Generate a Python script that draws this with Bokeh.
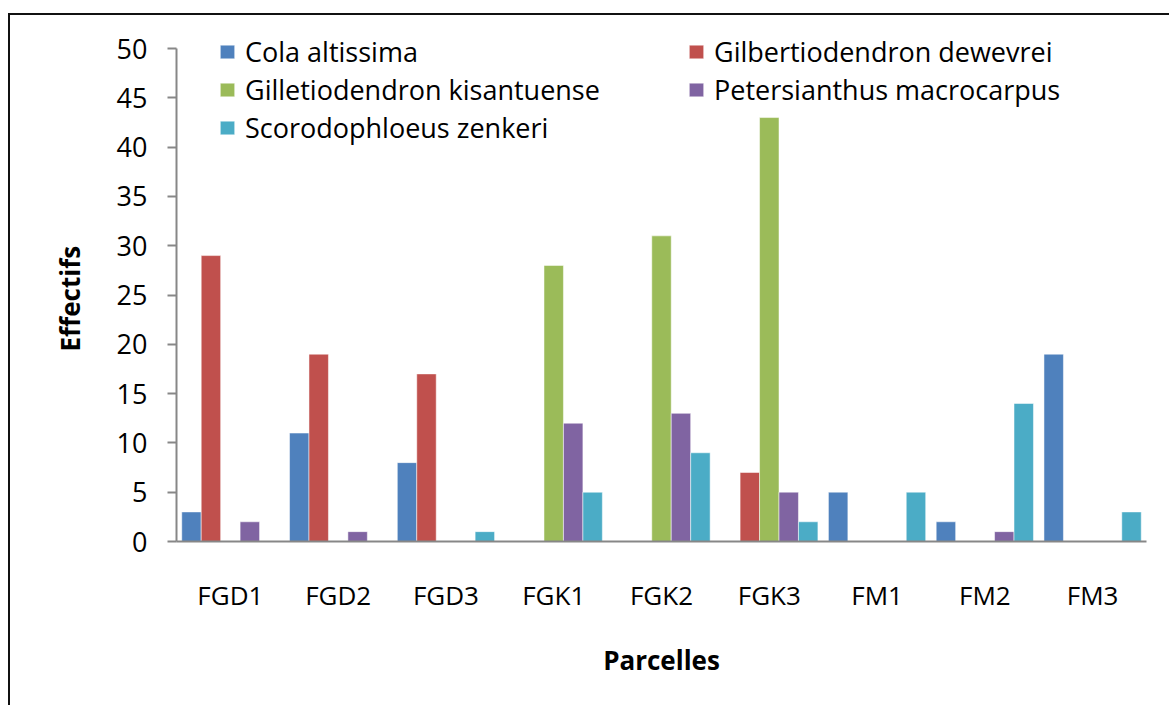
from bokeh.plotting import figure
from bokeh.models import FactorRange, Range1d, ColumnDataSource, Legend, LegendItem, FixedTicker, Title
from bokeh.transform import dodge
from bokeh.embed import file_html
from bokeh.resources import INLINE

categories = ["FGD1", "FGD2", "FGD3", "FGK1", "FGK2", "FGK3", "FM1", "FM2", "FM3"]
species = ["Cola altissima", "Gilbertiodendron dewevrei", "Gilletiodendron kisantuense",
           "Petersianthus macrocarpus", "Scorodophloeus zenkeri"]
cola = [3, 11, 8, 0, 0, 0, 5, 2, 19]
gilbert = [29, 19, 17, 0, 0, 7, 0, 0, 0]
gillet = [0, 0, 0, 28, 31, 43, 0, 0, 0]
peters = [2, 1, 0, 12, 13, 5, 0, 1, 0]
scoro = [0, 0, 1, 5, 9, 2, 5, 14, 3]
y_ticks = [0, 5, 10, 15, 20, 25, 30, 35, 40, 45, 50]

colors = ["#4F81BD", "#C0504D", "#9BBB59", "#8064A2", "#4BACC6"]
series = [cola, gilbert, gillet, peters, scoro]
keys = ["cola", "gilbert", "gillet", "peters", "scoro"]

src = ColumnDataSource(dict(cat=categories, **{k: v for k, v in zip(keys, series)}))

FONT = "Open Sans"
W, H = 1161, 692

p = figure(x_range=FactorRange(*categories), y_range=Range1d(0, 51.83),
           width=W, height=H, output_backend="svg", toolbar_location=None,
           min_border_left=166, min_border_top=15, min_border_right=25, min_border_bottom=166)
p.margin = (13, 0, 0, 8)
p.styles = {"border-top": "2px solid #111111", "border-left": "2px solid #111111"}
p.x_range.range_padding = 0
p.x_range.factor_padding = 0

bw = 0.1805
renderers = []
for i, (k, c) in enumerate(zip(keys, colors)):
    r = p.vbar(x=dodge("cat", (i - 2) * bw, range=p.x_range), top=k, width=bw, source=src,
               fill_color=c, line_color="white", line_alpha=0.5, line_width=1)
    renderers.append(r)

p.xgrid.visible = False
p.ygrid.visible = False
p.outline_line_color = None

ax = p.xaxis[0]
ax.axis_line_color = "#878787"
ax.axis_line_width = 2
ax.major_tick_line_color = None
ax.minor_tick_line_color = None
ax.major_label_text_font = FONT
ax.major_label_text_font_size = "26px"
ax.major_label_text_color = "black"
ax.major_label_standoff = 29
ax.axis_label = "Parcelles"
ax.axis_label_text_font = FONT
ax.axis_label_text_font_size = "26px"
ax.axis_label_text_font_style = "bold"
ax.axis_label_text_color = "black"
ax.axis_label_standoff = 26

ay = p.yaxis[0]
ay.ticker = FixedTicker(ticks=y_ticks)
ay.bounds = (0, 50)
ay.axis_line_color = "#878787"
ay.axis_line_width = 2
ay.major_tick_line_color = "#878787"
ay.major_tick_line_width = 2
ay.major_tick_out = 9
ay.major_tick_in = 0
ay.minor_tick_line_color = None
ay.major_label_text_font = FONT
ay.major_label_text_font_size = "27px"
ay.major_label_text_color = "black"
ay.major_label_standoff = 20

ytitle = Title(text="Effectifs", align="left", offset=190, vertical_align="bottom",
               standoff=52, text_font=FONT, text_font_size="26px",
               text_font_style="bold", text_color="black")
p.add_layout(ytitle, "left")

def make_legend(idx, loc):
    lg = Legend(items=[LegendItem(label=species[i], renderers=[renderers[i]]) for i in idx],
                location=loc, orientation="vertical")
    lg.label_text_font = FONT
    lg.label_text_font_size = "27px"
    lg.label_text_color = "black"
    lg.glyph_width = 18
    lg.glyph_height = 17
    lg.label_height = 38
    lg.label_standoff = 9
    lg.spacing = 0
    lg.padding = 0
    lg.margin = 0
    lg.border_line_alpha = 0
    lg.background_fill_alpha = 0
    return lg

p.add_layout(make_legend([0, 2, 4], (42, 395)))
p.add_layout(make_legend([1, 3], (511, 433)))

open("out.html", "w").write(file_html(p, INLINE))
